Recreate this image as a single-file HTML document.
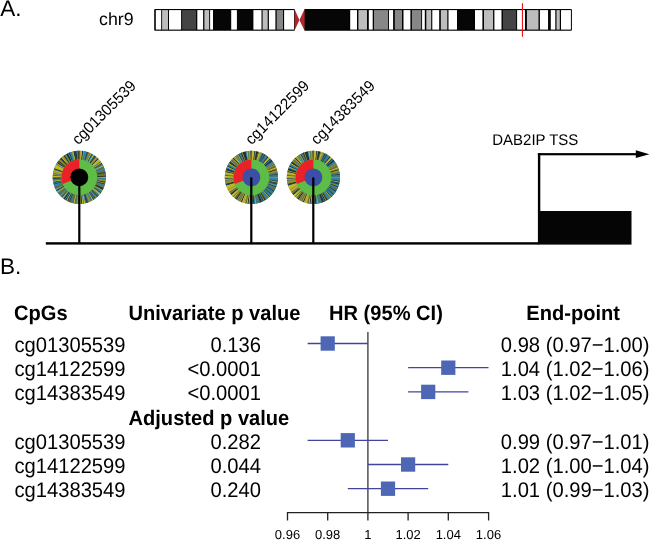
<!DOCTYPE html><html><head><meta charset="utf-8"><style>html,body{margin:0;padding:0;background:#fff;}svg{display:block;will-change:transform;}text{font-family:"Liberation Sans",sans-serif;fill:#000;text-rendering:geometricPrecision;}</style></head><body>
<svg width="650" height="545" viewBox="0 0 650 545">
<rect width="650" height="545" fill="#fff"/>
<text transform="translate(0.2,16.3)" font-size="22.5">A.</text>
<text transform="translate(99.1,24.9)" font-size="17.75">chr9</text>
<rect x="154.2" y="8.9" width="140.70" height="21.90" fill="#000" rx="1"/>
<rect x="304.2" y="8.9" width="267.70" height="21.90" fill="#000" rx="1"/>
<rect x="155.8" y="10.1" width="5.40" height="19.50" fill="#fff"/>
<rect x="162.1" y="10.1" width="5.90" height="19.50" fill="#bdbdbd"/>
<rect x="169.0" y="10.1" width="12.10" height="19.50" fill="#fff"/>
<rect x="182.1" y="10.1" width="14.00" height="19.50" fill="#444"/>
<rect x="197.3" y="10.1" width="5.80" height="19.50" fill="#fff"/>
<rect x="204.4" y="10.1" width="4.80" height="19.50" fill="#bdbdbd"/>
<rect x="210.1" y="10.1" width="2.90" height="19.50" fill="#fff"/>
<rect x="213.0" y="10.1" width="17.90" height="19.50" fill="#060606"/>
<rect x="231.2" y="10.1" width="5.70" height="19.50" fill="#fff"/>
<rect x="237" y="10.1" width="15.70" height="19.50" fill="#060606"/>
<rect x="253.4" y="10.1" width="8.10" height="19.50" fill="#fff"/>
<rect x="262.6" y="10.1" width="5.10" height="19.50" fill="#bdbdbd"/>
<rect x="268.9" y="10.1" width="6.50" height="19.50" fill="#fff"/>
<rect x="276.7" y="10.1" width="6.30" height="19.50" fill="#878787"/>
<rect x="284.1" y="10.1" width="9.90" height="19.50" fill="#fff"/>
<rect x="304.5" y="10.1" width="45.10" height="19.50" fill="#060606"/>
<rect x="350.2" y="10.1" width="6.80" height="19.50" fill="#fff"/>
<rect x="358.4" y="10.1" width="8.60" height="19.50" fill="#bdbdbd"/>
<rect x="368.8" y="10.1" width="3.90" height="19.50" fill="#fff"/>
<rect x="374.0" y="10.1" width="14.10" height="19.50" fill="#878787"/>
<rect x="389.0" y="10.1" width="4.10" height="19.50" fill="#fff"/>
<rect x="394.8" y="10.1" width="7.20" height="19.50" fill="#878787"/>
<rect x="403.5" y="10.1" width="6.90" height="19.50" fill="#fff"/>
<rect x="411.9" y="10.1" width="9.30" height="19.50" fill="#878787"/>
<rect x="422.1" y="10.1" width="2.70" height="19.50" fill="#fff"/>
<rect x="426.3" y="10.1" width="4.90" height="19.50" fill="#bdbdbd"/>
<rect x="432.3" y="10.1" width="6.90" height="19.50" fill="#fff"/>
<rect x="440.8" y="10.1" width="6.50" height="19.50" fill="#bdbdbd"/>
<rect x="448.5" y="10.1" width="8.50" height="19.50" fill="#fff"/>
<rect x="457.7" y="10.1" width="16.10" height="19.50" fill="#060606"/>
<rect x="475.0" y="10.1" width="7.40" height="19.50" fill="#fff"/>
<rect x="484.0" y="10.1" width="9.10" height="19.50" fill="#bdbdbd"/>
<rect x="494.4" y="10.1" width="7.10" height="19.50" fill="#fff"/>
<rect x="502.9" y="10.1" width="13.30" height="19.50" fill="#444"/>
<rect x="517.1" y="10.1" width="7.90" height="19.50" fill="#fff"/>
<rect x="526.9" y="10.1" width="11.60" height="19.50" fill="#bdbdbd"/>
<rect x="539.9" y="10.1" width="8.20" height="19.50" fill="#fff"/>
<rect x="548.5" y="10.1" width="2.00" height="19.50" fill="#060606"/>
<rect x="550.8" y="10.1" width="4.50" height="19.50" fill="#fff"/>
<rect x="556.5" y="10.1" width="3.30" height="19.50" fill="#bdbdbd"/>
<rect x="561.0" y="10.1" width="9.90" height="19.50" fill="#fff"/>
<polygon points="294.6,9.2 294.6,30.6 299.4,19.9" fill="#b1262b"/>
<polygon points="304.5,9.2 304.5,30.6 299.4,19.9" fill="#b1262b"/>
<rect x="521.9" y="3.2" width="1.1" height="33.6" fill="#e8141c"/>
<rect x="45.8" y="242.2" width="493" height="2.4" fill="#000"/>
<circle cx="79.3" cy="177.3" r="26.6" fill="#6f7440"/>
<path d="M79.30 150.70L80.39 150.72L80.01 160.01L79.30 160.00Z" fill="#9a9430"/><path d="M80.28 150.72L81.37 150.78L80.65 160.05L79.94 160.01Z" fill="#a9b043"/><path d="M81.26 150.77L82.35 150.88L81.28 160.11L80.58 160.05Z" fill="#d0c42c"/><path d="M82.24 150.86L83.32 151.01L81.92 160.20L81.21 160.11Z" fill="#1a2a30"/><path d="M83.22 150.99L84.29 151.17L82.55 160.31L81.85 160.19Z" fill="#9a9430"/><path d="M84.19 151.15L85.25 151.37L83.17 160.44L82.48 160.29Z" fill="#2189c0"/><path d="M85.15 151.35L86.21 151.61L83.79 160.59L83.11 160.42Z" fill="#2189c0"/><path d="M86.11 151.59L87.15 151.89L84.41 160.77L83.73 160.58Z" fill="#2189c0"/><path d="M87.05 151.85L88.09 152.19L85.01 160.97L84.34 160.75Z" fill="#1d3d52"/><path d="M87.99 152.16L89.01 152.53L85.61 161.19L84.95 160.95Z" fill="#6a6828"/><path d="M88.91 152.50L89.92 152.91L86.20 161.44L85.55 161.17Z" fill="#9a9430"/><path d="M89.82 152.87L90.81 153.32L86.79 161.70L86.14 161.41Z" fill="#2189c0"/><path d="M90.71 153.27L91.69 153.76L87.36 161.99L86.72 161.67Z" fill="#d0c42c"/><path d="M91.59 153.71L92.55 154.24L87.92 162.30L87.30 161.96Z" fill="#1d3d52"/><path d="M92.46 154.18L93.39 154.74L88.47 162.63L87.86 162.26Z" fill="#2189c0"/><path d="M93.30 154.68L94.22 155.28L89.00 162.98L88.41 162.59Z" fill="#d0c42c"/><path d="M94.13 155.22L95.02 155.84L89.52 163.34L88.94 162.94Z" fill="#2189c0"/><path d="M94.94 155.78L95.80 156.44L90.03 163.73L89.47 163.30Z" fill="#1a2a30"/><path d="M95.72 156.37L96.56 157.06L90.53 164.14L89.98 163.69Z" fill="#6a6828"/><path d="M96.48 156.99L97.30 157.71L91.01 164.56L90.47 164.09Z" fill="#a9b043"/><path d="M97.22 157.64L98.01 158.39L91.47 165.00L90.95 164.52Z" fill="#9a9430"/><path d="M97.93 158.32L98.70 159.10L91.91 165.46L91.42 164.95Z" fill="#1a2a30"/><path d="M98.62 159.02L99.36 159.83L92.34 165.94L91.87 165.41Z" fill="#d0c42c"/><path d="M99.29 159.75L99.99 160.58L92.75 166.43L92.30 165.88Z" fill="#d0c42c"/><path d="M99.92 160.50L100.59 161.35L93.15 166.93L92.71 166.37Z" fill="#d0c42c"/><path d="M100.53 161.27L101.17 162.15L93.52 167.45L93.11 166.87Z" fill="#3f7a80"/><path d="M101.11 162.07L101.71 162.97L93.88 167.98L93.48 167.39Z" fill="#d0c42c"/><path d="M101.65 162.88L102.22 163.81L94.21 168.53L93.84 167.92Z" fill="#1d3d52"/><path d="M102.17 163.72L102.71 164.67L94.52 169.08L94.17 168.47Z" fill="#6a6828"/><path d="M102.66 164.57L103.16 165.54L94.82 169.65L94.49 169.02Z" fill="#2189c0"/><path d="M103.11 165.44L103.58 166.43L95.09 170.23L94.79 169.59Z" fill="#d0c42c"/><path d="M103.53 166.33L103.96 167.33L95.34 170.82L95.06 170.17Z" fill="#3f7a80"/><path d="M103.92 167.23L104.31 168.25L95.57 171.41L95.31 170.75Z" fill="#6a6828"/><path d="M104.28 168.15L104.63 169.18L95.77 172.02L95.54 171.35Z" fill="#2189c0"/><path d="M104.60 169.08L104.91 170.12L95.96 172.63L95.75 171.95Z" fill="#2189c0"/><path d="M104.88 170.02L105.16 171.07L96.12 173.25L95.94 172.57Z" fill="#3f7a80"/><path d="M105.14 170.97L105.37 172.03L96.26 173.88L96.10 173.18Z" fill="#6a6828"/><path d="M105.35 171.93L105.55 173.00L96.37 174.50L96.24 173.81Z" fill="#1d3d52"/><path d="M105.53 172.90L105.69 173.97L96.46 175.14L96.36 174.44Z" fill="#6a6828"/><path d="M105.68 173.87L105.80 174.95L96.53 175.77L96.46 175.07Z" fill="#6a6828"/><path d="M105.79 174.85L105.86 175.93L96.58 176.41L96.53 175.70Z" fill="#2189c0"/><path d="M105.86 175.83L105.90 176.91L96.60 177.05L96.57 176.34Z" fill="#1a2a30"/><path d="M105.90 176.81L105.89 177.90L96.60 177.69L96.60 176.98Z" fill="#d0c42c"/><path d="M105.90 177.79L105.85 178.88L96.57 178.33L96.60 177.62Z" fill="#2189c0"/><path d="M105.86 178.77L105.78 179.86L96.52 178.97L96.57 178.26Z" fill="#3f7a80"/><path d="M105.79 179.75L105.66 180.84L96.45 179.60L96.53 178.90Z" fill="#9a9430"/><path d="M105.68 180.73L105.52 181.81L96.35 180.23L96.46 179.53Z" fill="#9a9430"/><path d="M105.53 181.70L105.33 182.77L96.23 180.86L96.36 180.16Z" fill="#1a2a30"/><path d="M105.35 182.67L105.11 183.73L96.09 181.48L96.24 180.79Z" fill="#9a9430"/><path d="M105.14 183.63L104.86 184.68L95.92 182.10L96.10 181.42Z" fill="#1a2a30"/><path d="M104.88 184.58L104.57 185.62L95.73 182.71L95.94 182.03Z" fill="#3f7a80"/><path d="M104.60 185.52L104.24 186.55L95.52 183.32L95.75 182.65Z" fill="#2189c0"/><path d="M104.28 186.45L103.88 187.46L95.29 183.91L95.54 183.25Z" fill="#3f7a80"/><path d="M103.92 187.37L103.49 188.37L95.03 184.50L95.31 183.85Z" fill="#6a6828"/><path d="M103.53 188.27L103.06 189.25L94.76 185.07L95.06 184.43Z" fill="#1a2a30"/><path d="M103.11 189.16L102.61 190.12L94.46 185.64L94.79 185.01Z" fill="#1a2a30"/><path d="M102.66 190.03L102.12 190.97L94.14 186.19L94.49 185.58Z" fill="#a9b043"/><path d="M102.17 190.88L101.60 191.81L93.80 186.74L94.17 186.13Z" fill="#2189c0"/><path d="M101.65 191.72L101.04 192.62L93.44 187.26L93.84 186.68Z" fill="#3f7a80"/><path d="M101.11 192.53L100.46 193.41L93.06 187.78L93.48 187.21Z" fill="#1d3d52"/><path d="M100.53 193.33L99.85 194.19L92.67 188.28L93.11 187.73Z" fill="#a9b043"/><path d="M99.92 194.10L99.22 194.93L92.25 188.77L92.71 188.23Z" fill="#d0c42c"/><path d="M99.29 194.85L98.55 195.66L91.82 189.24L92.30 188.72Z" fill="#2189c0"/><path d="M98.62 195.58L97.86 196.36L91.37 189.69L91.87 189.19Z" fill="#6a6828"/><path d="M97.93 196.28L97.14 197.03L90.90 190.13L91.42 189.65Z" fill="#1d3d52"/><path d="M97.22 196.96L96.40 197.67L90.42 190.55L90.95 190.08Z" fill="#2189c0"/><path d="M96.48 197.61L95.64 198.29L89.92 190.95L90.47 190.51Z" fill="#9a9430"/><path d="M95.72 198.23L94.85 198.88L89.41 191.34L89.98 190.91Z" fill="#1d3d52"/><path d="M94.94 198.82L94.04 199.44L88.89 191.70L89.47 191.30Z" fill="#3f7a80"/><path d="M94.13 199.38L93.21 199.97L88.35 192.05L88.94 191.66Z" fill="#1d3d52"/><path d="M93.30 199.92L92.37 200.47L87.80 192.37L88.41 192.01Z" fill="#d0c42c"/><path d="M92.46 200.42L91.50 200.94L87.23 192.67L87.86 192.34Z" fill="#2189c0"/><path d="M91.59 200.89L90.62 201.37L86.66 192.96L87.30 192.64Z" fill="#3f7a80"/><path d="M90.71 201.33L89.72 201.77L86.08 193.22L86.72 192.93Z" fill="#9a9430"/><path d="M89.82 201.73L88.81 202.14L85.48 193.46L86.14 193.19Z" fill="#9a9430"/><path d="M88.91 202.10L87.89 202.48L84.88 193.67L85.55 193.43Z" fill="#3f7a80"/><path d="M87.99 202.44L86.95 202.78L84.27 193.87L84.95 193.65Z" fill="#1d3d52"/><path d="M87.05 202.75L86.00 203.04L83.66 194.04L84.34 193.85Z" fill="#1d3d52"/><path d="M86.11 203.01L85.05 203.27L83.04 194.19L83.73 194.02Z" fill="#2189c0"/><path d="M85.15 203.25L84.08 203.47L82.41 194.32L83.11 194.18Z" fill="#d0c42c"/><path d="M84.19 203.45L83.11 203.63L81.78 194.42L82.48 194.31Z" fill="#2189c0"/><path d="M83.22 203.61L82.14 203.75L81.15 194.50L81.85 194.41Z" fill="#d0c42c"/><path d="M82.24 203.74L81.16 203.84L80.51 194.56L81.21 194.49Z" fill="#1a2a30"/><path d="M81.26 203.83L80.18 203.89L79.87 194.59L80.58 194.55Z" fill="#a9b043"/><path d="M80.28 203.88L79.19 203.90L79.23 194.60L79.94 194.59Z" fill="#a9b043"/><path d="M79.30 203.90L78.21 203.88L78.59 194.59L79.30 194.60Z" fill="#1d3d52"/><path d="M78.32 203.88L77.23 203.82L77.95 194.55L78.66 194.59Z" fill="#9a9430"/><path d="M77.34 203.83L76.25 203.72L77.32 194.49L78.02 194.55Z" fill="#9a9430"/><path d="M76.36 203.74L75.28 203.59L76.68 194.40L77.39 194.49Z" fill="#3f7a80"/><path d="M75.38 203.61L74.31 203.43L76.05 194.29L76.75 194.41Z" fill="#6a6828"/><path d="M74.41 203.45L73.35 203.23L75.43 194.16L76.12 194.31Z" fill="#d0c42c"/><path d="M73.45 203.25L72.39 202.99L74.81 194.01L75.49 194.18Z" fill="#6a6828"/><path d="M72.49 203.01L71.45 202.71L74.19 193.83L74.87 194.02Z" fill="#3f7a80"/><path d="M71.55 202.75L70.51 202.41L73.59 193.63L74.26 193.85Z" fill="#3f7a80"/><path d="M70.61 202.44L69.59 202.07L72.99 193.41L73.65 193.65Z" fill="#6a6828"/><path d="M69.69 202.10L68.68 201.69L72.40 193.16L73.05 193.43Z" fill="#1d3d52"/><path d="M68.78 201.73L67.79 201.28L71.81 192.90L72.46 193.19Z" fill="#3f7a80"/><path d="M67.89 201.33L66.91 200.84L71.24 192.61L71.88 192.93Z" fill="#1d3d52"/><path d="M67.01 200.89L66.05 200.36L70.68 192.30L71.30 192.64Z" fill="#a9b043"/><path d="M66.14 200.42L65.21 199.86L70.13 191.97L70.74 192.34Z" fill="#1d3d52"/><path d="M65.30 199.92L64.38 199.32L69.60 191.62L70.19 192.01Z" fill="#2189c0"/><path d="M64.47 199.38L63.58 198.76L69.08 191.26L69.66 191.66Z" fill="#1a2a30"/><path d="M63.66 198.82L62.80 198.16L68.57 190.87L69.13 191.30Z" fill="#3f7a80"/><path d="M62.88 198.23L62.04 197.54L68.07 190.46L68.62 190.91Z" fill="#d0c42c"/><path d="M62.12 197.61L61.30 196.89L67.59 190.04L68.13 190.51Z" fill="#1d3d52"/><path d="M61.38 196.96L60.59 196.21L67.13 189.60L67.65 190.08Z" fill="#3f7a80"/><path d="M60.67 196.28L59.90 195.50L66.69 189.14L67.18 189.65Z" fill="#9a9430"/><path d="M59.98 195.58L59.24 194.77L66.26 188.66L66.73 189.19Z" fill="#3f7a80"/><path d="M59.31 194.85L58.61 194.02L65.85 188.17L66.30 188.72Z" fill="#3f7a80"/><path d="M58.68 194.10L58.01 193.25L65.45 187.67L65.89 188.23Z" fill="#6a6828"/><path d="M58.07 193.33L57.43 192.45L65.08 187.15L65.49 187.73Z" fill="#2189c0"/><path d="M57.49 192.53L56.89 191.63L64.72 186.62L65.12 187.21Z" fill="#d0c42c"/><path d="M56.95 191.72L56.38 190.79L64.39 186.07L64.76 186.68Z" fill="#2189c0"/><path d="M56.43 190.88L55.89 189.93L64.08 185.52L64.43 186.13Z" fill="#1d3d52"/><path d="M55.94 190.03L55.44 189.06L63.78 184.95L64.11 185.58Z" fill="#a9b043"/><path d="M55.49 189.16L55.02 188.17L63.51 184.37L63.81 185.01Z" fill="#3f7a80"/><path d="M55.07 188.27L54.64 187.27L63.26 183.78L63.54 184.43Z" fill="#6a6828"/><path d="M54.68 187.37L54.29 186.35L63.03 183.19L63.29 183.85Z" fill="#3f7a80"/><path d="M54.32 186.45L53.97 185.42L62.83 182.58L63.06 183.25Z" fill="#2189c0"/><path d="M54.00 185.52L53.69 184.48L62.64 181.97L62.85 182.65Z" fill="#2189c0"/><path d="M53.72 184.58L53.44 183.53L62.48 181.35L62.66 182.03Z" fill="#1d3d52"/><path d="M53.46 183.63L53.23 182.57L62.34 180.72L62.50 181.42Z" fill="#2189c0"/><path d="M53.25 182.67L53.05 181.60L62.23 180.10L62.36 180.79Z" fill="#1d3d52"/><path d="M53.07 181.70L52.91 180.63L62.14 179.46L62.24 180.16Z" fill="#d0c42c"/><path d="M52.92 180.73L52.80 179.65L62.07 178.83L62.14 179.53Z" fill="#3f7a80"/><path d="M52.81 179.75L52.74 178.67L62.02 178.19L62.07 178.90Z" fill="#3f7a80"/><path d="M52.74 178.77L52.70 177.69L62.00 177.55L62.03 178.26Z" fill="#1a2a30"/><path d="M52.70 177.79L52.71 176.70L62.00 176.91L62.00 177.62Z" fill="#2189c0"/><path d="M52.70 176.81L52.75 175.72L62.03 176.27L62.00 176.98Z" fill="#d0c42c"/><path d="M52.74 175.83L52.82 174.74L62.08 175.63L62.03 176.34Z" fill="#6a6828"/><path d="M52.81 174.85L52.94 173.76L62.15 175.00L62.07 175.70Z" fill="#9a9430"/><path d="M52.92 173.87L53.08 172.79L62.25 174.37L62.14 175.07Z" fill="#3f7a80"/><path d="M53.07 172.90L53.27 171.83L62.37 173.74L62.24 174.44Z" fill="#a9b043"/><path d="M53.25 171.93L53.49 170.87L62.51 173.12L62.36 173.81Z" fill="#9a9430"/><path d="M53.46 170.97L53.74 169.92L62.68 172.50L62.50 173.18Z" fill="#d0c42c"/><path d="M53.72 170.02L54.03 168.98L62.87 171.89L62.66 172.57Z" fill="#3f7a80"/><path d="M54.00 169.08L54.36 168.05L63.08 171.28L62.85 171.95Z" fill="#1a2a30"/><path d="M54.32 168.15L54.72 167.14L63.31 170.69L63.06 171.35Z" fill="#d0c42c"/><path d="M54.68 167.23L55.11 166.23L63.57 170.10L63.29 170.75Z" fill="#d0c42c"/><path d="M55.07 166.33L55.54 165.35L63.84 169.53L63.54 170.17Z" fill="#d0c42c"/><path d="M55.49 165.44L55.99 164.48L64.14 168.96L63.81 169.59Z" fill="#d0c42c"/><path d="M55.94 164.57L56.48 163.63L64.46 168.41L64.11 169.02Z" fill="#2189c0"/><path d="M56.43 163.72L57.00 162.79L64.80 167.86L64.43 168.47Z" fill="#d0c42c"/><path d="M56.95 162.88L57.56 161.98L65.16 167.34L64.76 167.92Z" fill="#1a2a30"/><path d="M57.49 162.07L58.14 161.19L65.54 166.82L65.12 167.39Z" fill="#6a6828"/><path d="M58.07 161.27L58.75 160.41L65.93 166.32L65.49 166.87Z" fill="#1a2a30"/><path d="M58.68 160.50L59.38 159.67L66.35 165.83L65.89 166.37Z" fill="#9a9430"/><path d="M59.31 159.75L60.05 158.94L66.78 165.36L66.30 165.88Z" fill="#9a9430"/><path d="M59.98 159.02L60.74 158.24L67.23 164.91L66.73 165.41Z" fill="#1d3d52"/><path d="M60.67 158.32L61.46 157.57L67.70 164.47L67.18 164.95Z" fill="#1a2a30"/><path d="M61.38 157.64L62.20 156.93L68.18 164.05L67.65 164.52Z" fill="#d0c42c"/><path d="M62.12 156.99L62.96 156.31L68.68 163.65L68.13 164.09Z" fill="#9a9430"/><path d="M62.88 156.37L63.75 155.72L69.19 163.26L68.62 163.69Z" fill="#9a9430"/><path d="M63.66 155.78L64.56 155.16L69.71 162.90L69.13 163.30Z" fill="#1a2a30"/><path d="M64.47 155.22L65.39 154.63L70.25 162.55L69.66 162.94Z" fill="#3f7a80"/><path d="M65.30 154.68L66.23 154.13L70.80 162.23L70.19 162.59Z" fill="#9a9430"/><path d="M66.14 154.18L67.10 153.66L71.37 161.93L70.74 162.26Z" fill="#1a2a30"/><path d="M67.01 153.71L67.98 153.23L71.94 161.64L71.30 161.96Z" fill="#1a2a30"/><path d="M67.89 153.27L68.88 152.83L72.52 161.38L71.88 161.67Z" fill="#2189c0"/><path d="M68.78 152.87L69.79 152.46L73.12 161.14L72.46 161.41Z" fill="#1a2a30"/><path d="M69.69 152.50L70.71 152.12L73.72 160.93L73.05 161.17Z" fill="#2189c0"/><path d="M70.61 152.16L71.65 151.82L74.33 160.73L73.65 160.95Z" fill="#2189c0"/><path d="M71.55 151.85L72.60 151.56L74.94 160.56L74.26 160.75Z" fill="#9a9430"/><path d="M72.49 151.59L73.55 151.33L75.56 160.41L74.87 160.58Z" fill="#d0c42c"/><path d="M73.45 151.35L74.52 151.13L76.19 160.28L75.49 160.42Z" fill="#1a2a30"/><path d="M74.41 151.15L75.49 150.97L76.82 160.18L76.12 160.29Z" fill="#1d3d52"/><path d="M75.38 150.99L76.46 150.85L77.45 160.10L76.75 160.19Z" fill="#1a2a30"/><path d="M76.36 150.86L77.44 150.76L78.09 160.04L77.39 160.11Z" fill="#2189c0"/><path d="M77.34 150.77L78.42 150.71L78.73 160.01L78.02 160.05Z" fill="#6a6828"/><path d="M78.32 150.72L79.41 150.70L79.37 160.00L78.66 160.01Z" fill="#1a2a30"/>
<circle cx="79.3" cy="177.3" r="17.9" fill="#5dbd47"/>
<path d="M79.30 177.30L62.70 184.01A17.9 17.9 0 0 1 79.30 159.40Z" fill="#ea2127"/>
<circle cx="79.3" cy="177.3" r="8.9" fill="#000"/>
<circle cx="251.4" cy="177.4" r="26.6" fill="#6f7440"/>
<path d="M251.40 150.80L252.49 150.82L252.11 160.11L251.40 160.10Z" fill="#d0c42c"/><path d="M252.38 150.82L253.47 150.88L252.75 160.15L252.04 160.11Z" fill="#d0c42c"/><path d="M253.36 150.87L254.45 150.98L253.38 160.21L252.68 160.15Z" fill="#d0c42c"/><path d="M254.34 150.96L255.42 151.11L254.02 160.30L253.31 160.21Z" fill="#1d3d52"/><path d="M255.32 151.09L256.39 151.27L254.65 160.41L253.95 160.29Z" fill="#9a9430"/><path d="M256.29 151.25L257.35 151.47L255.27 160.54L254.58 160.39Z" fill="#1a2a30"/><path d="M257.25 151.45L258.31 151.71L255.89 160.69L255.21 160.52Z" fill="#1a2a30"/><path d="M258.21 151.69L259.25 151.99L256.51 160.87L255.83 160.68Z" fill="#6a6828"/><path d="M259.15 151.95L260.19 152.29L257.11 161.07L256.44 160.85Z" fill="#d0c42c"/><path d="M260.09 152.26L261.11 152.63L257.71 161.29L257.05 161.05Z" fill="#a9b043"/><path d="M261.01 152.60L262.02 153.01L258.30 161.54L257.65 161.27Z" fill="#9a9430"/><path d="M261.92 152.97L262.91 153.42L258.89 161.80L258.24 161.51Z" fill="#2189c0"/><path d="M262.81 153.37L263.79 153.86L259.46 162.09L258.82 161.77Z" fill="#1d3d52"/><path d="M263.69 153.81L264.65 154.34L260.02 162.40L259.40 162.06Z" fill="#3f7a80"/><path d="M264.56 154.28L265.49 154.84L260.57 162.73L259.96 162.36Z" fill="#1d3d52"/><path d="M265.40 154.78L266.32 155.38L261.10 163.08L260.51 162.69Z" fill="#3f7a80"/><path d="M266.23 155.32L267.12 155.94L261.62 163.44L261.04 163.04Z" fill="#2189c0"/><path d="M267.04 155.88L267.90 156.54L262.13 163.83L261.57 163.40Z" fill="#3f7a80"/><path d="M267.82 156.47L268.66 157.16L262.63 164.24L262.08 163.79Z" fill="#1a2a30"/><path d="M268.58 157.09L269.40 157.81L263.11 164.66L262.57 164.19Z" fill="#d0c42c"/><path d="M269.32 157.74L270.11 158.49L263.57 165.10L263.05 164.62Z" fill="#d0c42c"/><path d="M270.03 158.42L270.80 159.20L264.01 165.56L263.52 165.05Z" fill="#1d3d52"/><path d="M270.72 159.12L271.46 159.93L264.44 166.04L263.97 165.51Z" fill="#2189c0"/><path d="M271.39 159.85L272.09 160.68L264.85 166.53L264.40 165.98Z" fill="#1a2a30"/><path d="M272.02 160.60L272.69 161.45L265.25 167.03L264.81 166.47Z" fill="#1d3d52"/><path d="M272.63 161.37L273.27 162.25L265.62 167.55L265.21 166.97Z" fill="#2189c0"/><path d="M273.21 162.17L273.81 163.07L265.98 168.08L265.58 167.49Z" fill="#3f7a80"/><path d="M273.75 162.98L274.32 163.91L266.31 168.63L265.94 168.02Z" fill="#9a9430"/><path d="M274.27 163.82L274.81 164.77L266.62 169.18L266.27 168.57Z" fill="#3f7a80"/><path d="M274.76 164.67L275.26 165.64L266.92 169.75L266.59 169.12Z" fill="#9a9430"/><path d="M275.21 165.54L275.68 166.53L267.19 170.33L266.89 169.69Z" fill="#6a6828"/><path d="M275.63 166.43L276.06 167.43L267.44 170.92L267.16 170.27Z" fill="#6a6828"/><path d="M276.02 167.33L276.41 168.35L267.67 171.51L267.41 170.85Z" fill="#d0c42c"/><path d="M276.38 168.25L276.73 169.28L267.87 172.12L267.64 171.45Z" fill="#9a9430"/><path d="M276.70 169.18L277.01 170.22L268.06 172.73L267.85 172.05Z" fill="#1a2a30"/><path d="M276.98 170.12L277.26 171.17L268.22 173.35L268.04 172.67Z" fill="#9a9430"/><path d="M277.24 171.07L277.47 172.13L268.36 173.98L268.20 173.28Z" fill="#9a9430"/><path d="M277.45 172.03L277.65 173.10L268.47 174.60L268.34 173.91Z" fill="#3f7a80"/><path d="M277.63 173.00L277.79 174.07L268.56 175.24L268.46 174.54Z" fill="#3f7a80"/><path d="M277.78 173.97L277.90 175.05L268.63 175.87L268.56 175.17Z" fill="#1d3d52"/><path d="M277.89 174.95L277.96 176.03L268.68 176.51L268.63 175.80Z" fill="#3f7a80"/><path d="M277.96 175.93L278.00 177.01L268.70 177.15L268.67 176.44Z" fill="#3f7a80"/><path d="M278.00 176.91L277.99 178.00L268.70 177.79L268.70 177.08Z" fill="#9a9430"/><path d="M278.00 177.89L277.95 178.98L268.67 178.43L268.70 177.72Z" fill="#2189c0"/><path d="M277.96 178.87L277.88 179.96L268.62 179.07L268.67 178.36Z" fill="#2189c0"/><path d="M277.89 179.85L277.76 180.94L268.55 179.70L268.63 179.00Z" fill="#3f7a80"/><path d="M277.78 180.83L277.62 181.91L268.45 180.33L268.56 179.63Z" fill="#1d3d52"/><path d="M277.63 181.80L277.43 182.87L268.33 180.96L268.46 180.26Z" fill="#a9b043"/><path d="M277.45 182.77L277.21 183.83L268.19 181.58L268.34 180.89Z" fill="#1d3d52"/><path d="M277.24 183.73L276.96 184.78L268.02 182.20L268.20 181.52Z" fill="#1d3d52"/><path d="M276.98 184.68L276.67 185.72L267.83 182.81L268.04 182.13Z" fill="#2189c0"/><path d="M276.70 185.62L276.34 186.65L267.62 183.42L267.85 182.75Z" fill="#9a9430"/><path d="M276.38 186.55L275.98 187.56L267.39 184.01L267.64 183.35Z" fill="#1d3d52"/><path d="M276.02 187.47L275.59 188.47L267.13 184.60L267.41 183.95Z" fill="#2189c0"/><path d="M275.63 188.37L275.16 189.35L266.86 185.17L267.16 184.53Z" fill="#3f7a80"/><path d="M275.21 189.26L274.71 190.22L266.56 185.74L266.89 185.11Z" fill="#6a6828"/><path d="M274.76 190.13L274.22 191.07L266.24 186.29L266.59 185.68Z" fill="#2189c0"/><path d="M274.27 190.98L273.70 191.91L265.90 186.84L266.27 186.23Z" fill="#1a2a30"/><path d="M273.75 191.82L273.14 192.72L265.54 187.36L265.94 186.78Z" fill="#2189c0"/><path d="M273.21 192.63L272.56 193.51L265.16 187.88L265.58 187.31Z" fill="#3f7a80"/><path d="M272.63 193.43L271.95 194.29L264.77 188.38L265.21 187.83Z" fill="#3f7a80"/><path d="M272.02 194.20L271.32 195.03L264.35 188.87L264.81 188.33Z" fill="#1d3d52"/><path d="M271.39 194.95L270.65 195.76L263.92 189.34L264.40 188.82Z" fill="#2189c0"/><path d="M270.72 195.68L269.96 196.46L263.47 189.79L263.97 189.29Z" fill="#2189c0"/><path d="M270.03 196.38L269.24 197.13L263.00 190.23L263.52 189.75Z" fill="#1d3d52"/><path d="M269.32 197.06L268.50 197.77L262.52 190.65L263.05 190.18Z" fill="#a9b043"/><path d="M268.58 197.71L267.74 198.39L262.02 191.05L262.57 190.61Z" fill="#3f7a80"/><path d="M267.82 198.33L266.95 198.98L261.51 191.44L262.08 191.01Z" fill="#2189c0"/><path d="M267.04 198.92L266.14 199.54L260.99 191.80L261.57 191.40Z" fill="#2189c0"/><path d="M266.23 199.48L265.31 200.07L260.45 192.15L261.04 191.76Z" fill="#6a6828"/><path d="M265.40 200.02L264.47 200.57L259.90 192.47L260.51 192.11Z" fill="#1a2a30"/><path d="M264.56 200.52L263.60 201.04L259.33 192.77L259.96 192.44Z" fill="#9a9430"/><path d="M263.69 200.99L262.72 201.47L258.76 193.06L259.40 192.74Z" fill="#1a2a30"/><path d="M262.81 201.43L261.82 201.87L258.18 193.32L258.82 193.03Z" fill="#2189c0"/><path d="M261.92 201.83L260.91 202.24L257.58 193.56L258.24 193.29Z" fill="#1a2a30"/><path d="M261.01 202.20L259.99 202.58L256.98 193.77L257.65 193.53Z" fill="#1a2a30"/><path d="M260.09 202.54L259.05 202.88L256.37 193.97L257.05 193.75Z" fill="#3f7a80"/><path d="M259.15 202.85L258.10 203.14L255.76 194.14L256.44 193.95Z" fill="#3f7a80"/><path d="M258.21 203.11L257.15 203.37L255.14 194.29L255.83 194.12Z" fill="#3f7a80"/><path d="M257.25 203.35L256.18 203.57L254.51 194.42L255.21 194.28Z" fill="#3f7a80"/><path d="M256.29 203.55L255.21 203.73L253.88 194.52L254.58 194.41Z" fill="#a9b043"/><path d="M255.32 203.71L254.24 203.85L253.25 194.60L253.95 194.51Z" fill="#2189c0"/><path d="M254.34 203.84L253.26 203.94L252.61 194.66L253.31 194.59Z" fill="#1a2a30"/><path d="M253.36 203.93L252.28 203.99L251.97 194.69L252.68 194.65Z" fill="#6a6828"/><path d="M252.38 203.98L251.29 204.00L251.33 194.70L252.04 194.69Z" fill="#2189c0"/><path d="M251.40 204.00L250.31 203.98L250.69 194.69L251.40 194.70Z" fill="#3f7a80"/><path d="M250.42 203.98L249.33 203.92L250.05 194.65L250.76 194.69Z" fill="#1d3d52"/><path d="M249.44 203.93L248.35 203.82L249.42 194.59L250.12 194.65Z" fill="#d0c42c"/><path d="M248.46 203.84L247.38 203.69L248.78 194.50L249.49 194.59Z" fill="#1a2a30"/><path d="M247.48 203.71L246.41 203.53L248.15 194.39L248.85 194.51Z" fill="#d0c42c"/><path d="M246.51 203.55L245.45 203.33L247.53 194.26L248.22 194.41Z" fill="#6a6828"/><path d="M245.55 203.35L244.49 203.09L246.91 194.11L247.59 194.28Z" fill="#9a9430"/><path d="M244.59 203.11L243.55 202.81L246.29 193.93L246.97 194.12Z" fill="#d0c42c"/><path d="M243.65 202.85L242.61 202.51L245.69 193.73L246.36 193.95Z" fill="#a9b043"/><path d="M242.71 202.54L241.69 202.17L245.09 193.51L245.75 193.75Z" fill="#d0c42c"/><path d="M241.79 202.20L240.78 201.79L244.50 193.26L245.15 193.53Z" fill="#1a2a30"/><path d="M240.88 201.83L239.89 201.38L243.91 193.00L244.56 193.29Z" fill="#a9b043"/><path d="M239.99 201.43L239.01 200.94L243.34 192.71L243.98 193.03Z" fill="#6a6828"/><path d="M239.11 200.99L238.15 200.46L242.78 192.40L243.40 192.74Z" fill="#9a9430"/><path d="M238.24 200.52L237.31 199.96L242.23 192.07L242.84 192.44Z" fill="#3f7a80"/><path d="M237.40 200.02L236.48 199.42L241.70 191.72L242.29 192.11Z" fill="#9a9430"/><path d="M236.57 199.48L235.68 198.86L241.18 191.36L241.76 191.76Z" fill="#1a2a30"/><path d="M235.76 198.92L234.90 198.26L240.67 190.97L241.23 191.40Z" fill="#6a6828"/><path d="M234.98 198.33L234.14 197.64L240.17 190.56L240.72 191.01Z" fill="#6a6828"/><path d="M234.22 197.71L233.40 196.99L239.69 190.14L240.23 190.61Z" fill="#d0c42c"/><path d="M233.48 197.06L232.69 196.31L239.23 189.70L239.75 190.18Z" fill="#2189c0"/><path d="M232.77 196.38L232.00 195.60L238.79 189.24L239.28 189.75Z" fill="#d0c42c"/><path d="M232.08 195.68L231.34 194.87L238.36 188.76L238.83 189.29Z" fill="#d0c42c"/><path d="M231.41 194.95L230.71 194.12L237.95 188.27L238.40 188.82Z" fill="#1d3d52"/><path d="M230.78 194.20L230.11 193.35L237.55 187.77L237.99 188.33Z" fill="#1d3d52"/><path d="M230.17 193.43L229.53 192.55L237.18 187.25L237.59 187.83Z" fill="#9a9430"/><path d="M229.59 192.63L228.99 191.73L236.82 186.72L237.22 187.31Z" fill="#6a6828"/><path d="M229.05 191.82L228.48 190.89L236.49 186.17L236.86 186.78Z" fill="#d0c42c"/><path d="M228.53 190.98L227.99 190.03L236.18 185.62L236.53 186.23Z" fill="#d0c42c"/><path d="M228.04 190.13L227.54 189.16L235.88 185.05L236.21 185.68Z" fill="#9a9430"/><path d="M227.59 189.26L227.12 188.27L235.61 184.47L235.91 185.11Z" fill="#d0c42c"/><path d="M227.17 188.37L226.74 187.37L235.36 183.88L235.64 184.53Z" fill="#d0c42c"/><path d="M226.78 187.47L226.39 186.45L235.13 183.29L235.39 183.95Z" fill="#d0c42c"/><path d="M226.42 186.55L226.07 185.52L234.93 182.68L235.16 183.35Z" fill="#d0c42c"/><path d="M226.10 185.62L225.79 184.58L234.74 182.07L234.95 182.75Z" fill="#1d3d52"/><path d="M225.82 184.68L225.54 183.63L234.58 181.45L234.76 182.13Z" fill="#1a2a30"/><path d="M225.56 183.73L225.33 182.67L234.44 180.82L234.60 181.52Z" fill="#9a9430"/><path d="M225.35 182.77L225.15 181.70L234.33 180.20L234.46 180.89Z" fill="#9a9430"/><path d="M225.17 181.80L225.01 180.73L234.24 179.56L234.34 180.26Z" fill="#9a9430"/><path d="M225.02 180.83L224.90 179.75L234.17 178.93L234.24 179.63Z" fill="#3f7a80"/><path d="M224.91 179.85L224.84 178.77L234.12 178.29L234.17 179.00Z" fill="#d0c42c"/><path d="M224.84 178.87L224.80 177.79L234.10 177.65L234.13 178.36Z" fill="#1d3d52"/><path d="M224.80 177.89L224.81 176.80L234.10 177.01L234.10 177.72Z" fill="#a9b043"/><path d="M224.80 176.91L224.85 175.82L234.13 176.37L234.10 177.08Z" fill="#d0c42c"/><path d="M224.84 175.93L224.92 174.84L234.18 175.73L234.13 176.44Z" fill="#6a6828"/><path d="M224.91 174.95L225.04 173.86L234.25 175.10L234.17 175.80Z" fill="#9a9430"/><path d="M225.02 173.97L225.18 172.89L234.35 174.47L234.24 175.17Z" fill="#d0c42c"/><path d="M225.17 173.00L225.37 171.93L234.47 173.84L234.34 174.54Z" fill="#d0c42c"/><path d="M225.35 172.03L225.59 170.97L234.61 173.22L234.46 173.91Z" fill="#1d3d52"/><path d="M225.56 171.07L225.84 170.02L234.78 172.60L234.60 173.28Z" fill="#9a9430"/><path d="M225.82 170.12L226.13 169.08L234.97 171.99L234.76 172.67Z" fill="#1a2a30"/><path d="M226.10 169.18L226.46 168.15L235.18 171.38L234.95 172.05Z" fill="#1a2a30"/><path d="M226.42 168.25L226.82 167.24L235.41 170.79L235.16 171.45Z" fill="#2189c0"/><path d="M226.78 167.33L227.21 166.33L235.67 170.20L235.39 170.85Z" fill="#d0c42c"/><path d="M227.17 166.43L227.64 165.45L235.94 169.63L235.64 170.27Z" fill="#1a2a30"/><path d="M227.59 165.54L228.09 164.58L236.24 169.06L235.91 169.69Z" fill="#2189c0"/><path d="M228.04 164.67L228.58 163.73L236.56 168.51L236.21 169.12Z" fill="#3f7a80"/><path d="M228.53 163.82L229.10 162.89L236.90 167.96L236.53 168.57Z" fill="#d0c42c"/><path d="M229.05 162.98L229.66 162.08L237.26 167.44L236.86 168.02Z" fill="#1a2a30"/><path d="M229.59 162.17L230.24 161.29L237.64 166.92L237.22 167.49Z" fill="#1d3d52"/><path d="M230.17 161.37L230.85 160.51L238.03 166.42L237.59 166.97Z" fill="#9a9430"/><path d="M230.78 160.60L231.48 159.77L238.45 165.93L237.99 166.47Z" fill="#2189c0"/><path d="M231.41 159.85L232.15 159.04L238.88 165.46L238.40 165.98Z" fill="#6a6828"/><path d="M232.08 159.12L232.84 158.34L239.33 165.01L238.83 165.51Z" fill="#d0c42c"/><path d="M232.77 158.42L233.56 157.67L239.80 164.57L239.28 165.05Z" fill="#1a2a30"/><path d="M233.48 157.74L234.30 157.03L240.28 164.15L239.75 164.62Z" fill="#9a9430"/><path d="M234.22 157.09L235.06 156.41L240.78 163.75L240.23 164.19Z" fill="#d0c42c"/><path d="M234.98 156.47L235.85 155.82L241.29 163.36L240.72 163.79Z" fill="#2189c0"/><path d="M235.76 155.88L236.66 155.26L241.81 163.00L241.23 163.40Z" fill="#9a9430"/><path d="M236.57 155.32L237.49 154.73L242.35 162.65L241.76 163.04Z" fill="#3f7a80"/><path d="M237.40 154.78L238.33 154.23L242.90 162.33L242.29 162.69Z" fill="#a9b043"/><path d="M238.24 154.28L239.20 153.76L243.47 162.03L242.84 162.36Z" fill="#1d3d52"/><path d="M239.11 153.81L240.08 153.33L244.04 161.74L243.40 162.06Z" fill="#2189c0"/><path d="M239.99 153.37L240.98 152.93L244.62 161.48L243.98 161.77Z" fill="#3f7a80"/><path d="M240.88 152.97L241.89 152.56L245.22 161.24L244.56 161.51Z" fill="#1a2a30"/><path d="M241.79 152.60L242.81 152.22L245.82 161.03L245.15 161.27Z" fill="#9a9430"/><path d="M242.71 152.26L243.75 151.92L246.43 160.83L245.75 161.05Z" fill="#1a2a30"/><path d="M243.65 151.95L244.70 151.66L247.04 160.66L246.36 160.85Z" fill="#1a2a30"/><path d="M244.59 151.69L245.65 151.43L247.66 160.51L246.97 160.68Z" fill="#1a2a30"/><path d="M245.55 151.45L246.62 151.23L248.29 160.38L247.59 160.52Z" fill="#2189c0"/><path d="M246.51 151.25L247.59 151.07L248.92 160.28L248.22 160.39Z" fill="#d0c42c"/><path d="M247.48 151.09L248.56 150.95L249.55 160.20L248.85 160.29Z" fill="#3f7a80"/><path d="M248.46 150.96L249.54 150.86L250.19 160.14L249.49 160.21Z" fill="#9a9430"/><path d="M249.44 150.87L250.52 150.81L250.83 160.11L250.12 160.15Z" fill="#d0c42c"/><path d="M250.42 150.82L251.51 150.80L251.47 160.10L250.76 160.11Z" fill="#1a2a30"/>
<circle cx="251.4" cy="177.4" r="17.9" fill="#5dbd47"/>
<path d="M251.40 177.40L234.80 184.11A17.9 17.9 0 0 1 251.40 159.50Z" fill="#ea2127"/>
<circle cx="251.4" cy="177.4" r="8.9" fill="#3b4fa6"/>
<circle cx="313.4" cy="177.4" r="26.6" fill="#6f7440"/>
<path d="M313.40 150.80L314.49 150.82L314.11 160.11L313.40 160.10Z" fill="#d0c42c"/><path d="M314.38 150.82L315.47 150.88L314.75 160.15L314.04 160.11Z" fill="#d0c42c"/><path d="M315.36 150.87L316.45 150.98L315.38 160.21L314.68 160.15Z" fill="#d0c42c"/><path d="M316.34 150.96L317.42 151.11L316.02 160.30L315.31 160.21Z" fill="#1d3d52"/><path d="M317.32 151.09L318.39 151.27L316.65 160.41L315.95 160.29Z" fill="#9a9430"/><path d="M318.29 151.25L319.35 151.47L317.27 160.54L316.58 160.39Z" fill="#1a2a30"/><path d="M319.25 151.45L320.31 151.71L317.89 160.69L317.21 160.52Z" fill="#1a2a30"/><path d="M320.21 151.69L321.25 151.99L318.51 160.87L317.83 160.68Z" fill="#6a6828"/><path d="M321.15 151.95L322.19 152.29L319.11 161.07L318.44 160.85Z" fill="#d0c42c"/><path d="M322.09 152.26L323.11 152.63L319.71 161.29L319.05 161.05Z" fill="#a9b043"/><path d="M323.01 152.60L324.02 153.01L320.30 161.54L319.65 161.27Z" fill="#9a9430"/><path d="M323.92 152.97L324.91 153.42L320.89 161.80L320.24 161.51Z" fill="#2189c0"/><path d="M324.81 153.37L325.79 153.86L321.46 162.09L320.82 161.77Z" fill="#1d3d52"/><path d="M325.69 153.81L326.65 154.34L322.02 162.40L321.40 162.06Z" fill="#3f7a80"/><path d="M326.56 154.28L327.49 154.84L322.57 162.73L321.96 162.36Z" fill="#1d3d52"/><path d="M327.40 154.78L328.32 155.38L323.10 163.08L322.51 162.69Z" fill="#3f7a80"/><path d="M328.23 155.32L329.12 155.94L323.62 163.44L323.04 163.04Z" fill="#2189c0"/><path d="M329.04 155.88L329.90 156.54L324.13 163.83L323.57 163.40Z" fill="#3f7a80"/><path d="M329.82 156.47L330.66 157.16L324.63 164.24L324.08 163.79Z" fill="#1a2a30"/><path d="M330.58 157.09L331.40 157.81L325.11 164.66L324.57 164.19Z" fill="#d0c42c"/><path d="M331.32 157.74L332.11 158.49L325.57 165.10L325.05 164.62Z" fill="#d0c42c"/><path d="M332.03 158.42L332.80 159.20L326.01 165.56L325.52 165.05Z" fill="#1d3d52"/><path d="M332.72 159.12L333.46 159.93L326.44 166.04L325.97 165.51Z" fill="#2189c0"/><path d="M333.39 159.85L334.09 160.68L326.85 166.53L326.40 165.98Z" fill="#1a2a30"/><path d="M334.02 160.60L334.69 161.45L327.25 167.03L326.81 166.47Z" fill="#1d3d52"/><path d="M334.63 161.37L335.27 162.25L327.62 167.55L327.21 166.97Z" fill="#2189c0"/><path d="M335.21 162.17L335.81 163.07L327.98 168.08L327.58 167.49Z" fill="#3f7a80"/><path d="M335.75 162.98L336.32 163.91L328.31 168.63L327.94 168.02Z" fill="#9a9430"/><path d="M336.27 163.82L336.81 164.77L328.62 169.18L328.27 168.57Z" fill="#3f7a80"/><path d="M336.76 164.67L337.26 165.64L328.92 169.75L328.59 169.12Z" fill="#9a9430"/><path d="M337.21 165.54L337.68 166.53L329.19 170.33L328.89 169.69Z" fill="#6a6828"/><path d="M337.63 166.43L338.06 167.43L329.44 170.92L329.16 170.27Z" fill="#6a6828"/><path d="M338.02 167.33L338.41 168.35L329.67 171.51L329.41 170.85Z" fill="#d0c42c"/><path d="M338.38 168.25L338.73 169.28L329.87 172.12L329.64 171.45Z" fill="#9a9430"/><path d="M338.70 169.18L339.01 170.22L330.06 172.73L329.85 172.05Z" fill="#1a2a30"/><path d="M338.98 170.12L339.26 171.17L330.22 173.35L330.04 172.67Z" fill="#9a9430"/><path d="M339.24 171.07L339.47 172.13L330.36 173.98L330.20 173.28Z" fill="#9a9430"/><path d="M339.45 172.03L339.65 173.10L330.47 174.60L330.34 173.91Z" fill="#3f7a80"/><path d="M339.63 173.00L339.79 174.07L330.56 175.24L330.46 174.54Z" fill="#3f7a80"/><path d="M339.78 173.97L339.90 175.05L330.63 175.87L330.56 175.17Z" fill="#1d3d52"/><path d="M339.89 174.95L339.96 176.03L330.68 176.51L330.63 175.80Z" fill="#3f7a80"/><path d="M339.96 175.93L340.00 177.01L330.70 177.15L330.67 176.44Z" fill="#3f7a80"/><path d="M340.00 176.91L339.99 178.00L330.70 177.79L330.70 177.08Z" fill="#9a9430"/><path d="M340.00 177.89L339.95 178.98L330.67 178.43L330.70 177.72Z" fill="#2189c0"/><path d="M339.96 178.87L339.88 179.96L330.62 179.07L330.67 178.36Z" fill="#2189c0"/><path d="M339.89 179.85L339.76 180.94L330.55 179.70L330.63 179.00Z" fill="#3f7a80"/><path d="M339.78 180.83L339.62 181.91L330.45 180.33L330.56 179.63Z" fill="#1d3d52"/><path d="M339.63 181.80L339.43 182.87L330.33 180.96L330.46 180.26Z" fill="#a9b043"/><path d="M339.45 182.77L339.21 183.83L330.19 181.58L330.34 180.89Z" fill="#1d3d52"/><path d="M339.24 183.73L338.96 184.78L330.02 182.20L330.20 181.52Z" fill="#1d3d52"/><path d="M338.98 184.68L338.67 185.72L329.83 182.81L330.04 182.13Z" fill="#2189c0"/><path d="M338.70 185.62L338.34 186.65L329.62 183.42L329.85 182.75Z" fill="#9a9430"/><path d="M338.38 186.55L337.98 187.56L329.39 184.01L329.64 183.35Z" fill="#1d3d52"/><path d="M338.02 187.47L337.59 188.47L329.13 184.60L329.41 183.95Z" fill="#2189c0"/><path d="M337.63 188.37L337.16 189.35L328.86 185.17L329.16 184.53Z" fill="#3f7a80"/><path d="M337.21 189.26L336.71 190.22L328.56 185.74L328.89 185.11Z" fill="#6a6828"/><path d="M336.76 190.13L336.22 191.07L328.24 186.29L328.59 185.68Z" fill="#2189c0"/><path d="M336.27 190.98L335.70 191.91L327.90 186.84L328.27 186.23Z" fill="#1a2a30"/><path d="M335.75 191.82L335.14 192.72L327.54 187.36L327.94 186.78Z" fill="#2189c0"/><path d="M335.21 192.63L334.56 193.51L327.16 187.88L327.58 187.31Z" fill="#3f7a80"/><path d="M334.63 193.43L333.95 194.29L326.77 188.38L327.21 187.83Z" fill="#3f7a80"/><path d="M334.02 194.20L333.32 195.03L326.35 188.87L326.81 188.33Z" fill="#1d3d52"/><path d="M333.39 194.95L332.65 195.76L325.92 189.34L326.40 188.82Z" fill="#2189c0"/><path d="M332.72 195.68L331.96 196.46L325.47 189.79L325.97 189.29Z" fill="#2189c0"/><path d="M332.03 196.38L331.24 197.13L325.00 190.23L325.52 189.75Z" fill="#1d3d52"/><path d="M331.32 197.06L330.50 197.77L324.52 190.65L325.05 190.18Z" fill="#a9b043"/><path d="M330.58 197.71L329.74 198.39L324.02 191.05L324.57 190.61Z" fill="#3f7a80"/><path d="M329.82 198.33L328.95 198.98L323.51 191.44L324.08 191.01Z" fill="#2189c0"/><path d="M329.04 198.92L328.14 199.54L322.99 191.80L323.57 191.40Z" fill="#2189c0"/><path d="M328.23 199.48L327.31 200.07L322.45 192.15L323.04 191.76Z" fill="#6a6828"/><path d="M327.40 200.02L326.47 200.57L321.90 192.47L322.51 192.11Z" fill="#1a2a30"/><path d="M326.56 200.52L325.60 201.04L321.33 192.77L321.96 192.44Z" fill="#9a9430"/><path d="M325.69 200.99L324.72 201.47L320.76 193.06L321.40 192.74Z" fill="#1a2a30"/><path d="M324.81 201.43L323.82 201.87L320.18 193.32L320.82 193.03Z" fill="#2189c0"/><path d="M323.92 201.83L322.91 202.24L319.58 193.56L320.24 193.29Z" fill="#1a2a30"/><path d="M323.01 202.20L321.99 202.58L318.98 193.77L319.65 193.53Z" fill="#1a2a30"/><path d="M322.09 202.54L321.05 202.88L318.37 193.97L319.05 193.75Z" fill="#3f7a80"/><path d="M321.15 202.85L320.10 203.14L317.76 194.14L318.44 193.95Z" fill="#3f7a80"/><path d="M320.21 203.11L319.15 203.37L317.14 194.29L317.83 194.12Z" fill="#3f7a80"/><path d="M319.25 203.35L318.18 203.57L316.51 194.42L317.21 194.28Z" fill="#3f7a80"/><path d="M318.29 203.55L317.21 203.73L315.88 194.52L316.58 194.41Z" fill="#a9b043"/><path d="M317.32 203.71L316.24 203.85L315.25 194.60L315.95 194.51Z" fill="#2189c0"/><path d="M316.34 203.84L315.26 203.94L314.61 194.66L315.31 194.59Z" fill="#1a2a30"/><path d="M315.36 203.93L314.28 203.99L313.97 194.69L314.68 194.65Z" fill="#6a6828"/><path d="M314.38 203.98L313.29 204.00L313.33 194.70L314.04 194.69Z" fill="#2189c0"/><path d="M313.40 204.00L312.31 203.98L312.69 194.69L313.40 194.70Z" fill="#3f7a80"/><path d="M312.42 203.98L311.33 203.92L312.05 194.65L312.76 194.69Z" fill="#1d3d52"/><path d="M311.44 203.93L310.35 203.82L311.42 194.59L312.12 194.65Z" fill="#d0c42c"/><path d="M310.46 203.84L309.38 203.69L310.78 194.50L311.49 194.59Z" fill="#1a2a30"/><path d="M309.48 203.71L308.41 203.53L310.15 194.39L310.85 194.51Z" fill="#d0c42c"/><path d="M308.51 203.55L307.45 203.33L309.53 194.26L310.22 194.41Z" fill="#6a6828"/><path d="M307.55 203.35L306.49 203.09L308.91 194.11L309.59 194.28Z" fill="#9a9430"/><path d="M306.59 203.11L305.55 202.81L308.29 193.93L308.97 194.12Z" fill="#d0c42c"/><path d="M305.65 202.85L304.61 202.51L307.69 193.73L308.36 193.95Z" fill="#a9b043"/><path d="M304.71 202.54L303.69 202.17L307.09 193.51L307.75 193.75Z" fill="#d0c42c"/><path d="M303.79 202.20L302.78 201.79L306.50 193.26L307.15 193.53Z" fill="#1a2a30"/><path d="M302.88 201.83L301.89 201.38L305.91 193.00L306.56 193.29Z" fill="#a9b043"/><path d="M301.99 201.43L301.01 200.94L305.34 192.71L305.98 193.03Z" fill="#6a6828"/><path d="M301.11 200.99L300.15 200.46L304.78 192.40L305.40 192.74Z" fill="#9a9430"/><path d="M300.24 200.52L299.31 199.96L304.23 192.07L304.84 192.44Z" fill="#3f7a80"/><path d="M299.40 200.02L298.48 199.42L303.70 191.72L304.29 192.11Z" fill="#9a9430"/><path d="M298.57 199.48L297.68 198.86L303.18 191.36L303.76 191.76Z" fill="#1a2a30"/><path d="M297.76 198.92L296.90 198.26L302.67 190.97L303.23 191.40Z" fill="#6a6828"/><path d="M296.98 198.33L296.14 197.64L302.17 190.56L302.72 191.01Z" fill="#6a6828"/><path d="M296.22 197.71L295.40 196.99L301.69 190.14L302.23 190.61Z" fill="#d0c42c"/><path d="M295.48 197.06L294.69 196.31L301.23 189.70L301.75 190.18Z" fill="#2189c0"/><path d="M294.77 196.38L294.00 195.60L300.79 189.24L301.28 189.75Z" fill="#d0c42c"/><path d="M294.08 195.68L293.34 194.87L300.36 188.76L300.83 189.29Z" fill="#d0c42c"/><path d="M293.41 194.95L292.71 194.12L299.95 188.27L300.40 188.82Z" fill="#1d3d52"/><path d="M292.78 194.20L292.11 193.35L299.55 187.77L299.99 188.33Z" fill="#1d3d52"/><path d="M292.17 193.43L291.53 192.55L299.18 187.25L299.59 187.83Z" fill="#9a9430"/><path d="M291.59 192.63L290.99 191.73L298.82 186.72L299.22 187.31Z" fill="#6a6828"/><path d="M291.05 191.82L290.48 190.89L298.49 186.17L298.86 186.78Z" fill="#d0c42c"/><path d="M290.53 190.98L289.99 190.03L298.18 185.62L298.53 186.23Z" fill="#d0c42c"/><path d="M290.04 190.13L289.54 189.16L297.88 185.05L298.21 185.68Z" fill="#9a9430"/><path d="M289.59 189.26L289.12 188.27L297.61 184.47L297.91 185.11Z" fill="#d0c42c"/><path d="M289.17 188.37L288.74 187.37L297.36 183.88L297.64 184.53Z" fill="#d0c42c"/><path d="M288.78 187.47L288.39 186.45L297.13 183.29L297.39 183.95Z" fill="#d0c42c"/><path d="M288.42 186.55L288.07 185.52L296.93 182.68L297.16 183.35Z" fill="#d0c42c"/><path d="M288.10 185.62L287.79 184.58L296.74 182.07L296.95 182.75Z" fill="#1d3d52"/><path d="M287.82 184.68L287.54 183.63L296.58 181.45L296.76 182.13Z" fill="#1a2a30"/><path d="M287.56 183.73L287.33 182.67L296.44 180.82L296.60 181.52Z" fill="#9a9430"/><path d="M287.35 182.77L287.15 181.70L296.33 180.20L296.46 180.89Z" fill="#9a9430"/><path d="M287.17 181.80L287.01 180.73L296.24 179.56L296.34 180.26Z" fill="#9a9430"/><path d="M287.02 180.83L286.90 179.75L296.17 178.93L296.24 179.63Z" fill="#3f7a80"/><path d="M286.91 179.85L286.84 178.77L296.12 178.29L296.17 179.00Z" fill="#d0c42c"/><path d="M286.84 178.87L286.80 177.79L296.10 177.65L296.13 178.36Z" fill="#1d3d52"/><path d="M286.80 177.89L286.81 176.80L296.10 177.01L296.10 177.72Z" fill="#a9b043"/><path d="M286.80 176.91L286.85 175.82L296.13 176.37L296.10 177.08Z" fill="#d0c42c"/><path d="M286.84 175.93L286.92 174.84L296.18 175.73L296.13 176.44Z" fill="#6a6828"/><path d="M286.91 174.95L287.04 173.86L296.25 175.10L296.17 175.80Z" fill="#9a9430"/><path d="M287.02 173.97L287.18 172.89L296.35 174.47L296.24 175.17Z" fill="#d0c42c"/><path d="M287.17 173.00L287.37 171.93L296.47 173.84L296.34 174.54Z" fill="#d0c42c"/><path d="M287.35 172.03L287.59 170.97L296.61 173.22L296.46 173.91Z" fill="#1d3d52"/><path d="M287.56 171.07L287.84 170.02L296.78 172.60L296.60 173.28Z" fill="#9a9430"/><path d="M287.82 170.12L288.13 169.08L296.97 171.99L296.76 172.67Z" fill="#1a2a30"/><path d="M288.10 169.18L288.46 168.15L297.18 171.38L296.95 172.05Z" fill="#1a2a30"/><path d="M288.42 168.25L288.82 167.24L297.41 170.79L297.16 171.45Z" fill="#2189c0"/><path d="M288.78 167.33L289.21 166.33L297.67 170.20L297.39 170.85Z" fill="#d0c42c"/><path d="M289.17 166.43L289.64 165.45L297.94 169.63L297.64 170.27Z" fill="#1a2a30"/><path d="M289.59 165.54L290.09 164.58L298.24 169.06L297.91 169.69Z" fill="#2189c0"/><path d="M290.04 164.67L290.58 163.73L298.56 168.51L298.21 169.12Z" fill="#3f7a80"/><path d="M290.53 163.82L291.10 162.89L298.90 167.96L298.53 168.57Z" fill="#d0c42c"/><path d="M291.05 162.98L291.66 162.08L299.26 167.44L298.86 168.02Z" fill="#1a2a30"/><path d="M291.59 162.17L292.24 161.29L299.64 166.92L299.22 167.49Z" fill="#1d3d52"/><path d="M292.17 161.37L292.85 160.51L300.03 166.42L299.59 166.97Z" fill="#9a9430"/><path d="M292.78 160.60L293.48 159.77L300.45 165.93L299.99 166.47Z" fill="#2189c0"/><path d="M293.41 159.85L294.15 159.04L300.88 165.46L300.40 165.98Z" fill="#6a6828"/><path d="M294.08 159.12L294.84 158.34L301.33 165.01L300.83 165.51Z" fill="#d0c42c"/><path d="M294.77 158.42L295.56 157.67L301.80 164.57L301.28 165.05Z" fill="#1a2a30"/><path d="M295.48 157.74L296.30 157.03L302.28 164.15L301.75 164.62Z" fill="#9a9430"/><path d="M296.22 157.09L297.06 156.41L302.78 163.75L302.23 164.19Z" fill="#d0c42c"/><path d="M296.98 156.47L297.85 155.82L303.29 163.36L302.72 163.79Z" fill="#2189c0"/><path d="M297.76 155.88L298.66 155.26L303.81 163.00L303.23 163.40Z" fill="#9a9430"/><path d="M298.57 155.32L299.49 154.73L304.35 162.65L303.76 163.04Z" fill="#3f7a80"/><path d="M299.40 154.78L300.33 154.23L304.90 162.33L304.29 162.69Z" fill="#a9b043"/><path d="M300.24 154.28L301.20 153.76L305.47 162.03L304.84 162.36Z" fill="#1d3d52"/><path d="M301.11 153.81L302.08 153.33L306.04 161.74L305.40 162.06Z" fill="#2189c0"/><path d="M301.99 153.37L302.98 152.93L306.62 161.48L305.98 161.77Z" fill="#3f7a80"/><path d="M302.88 152.97L303.89 152.56L307.22 161.24L306.56 161.51Z" fill="#1a2a30"/><path d="M303.79 152.60L304.81 152.22L307.82 161.03L307.15 161.27Z" fill="#9a9430"/><path d="M304.71 152.26L305.75 151.92L308.43 160.83L307.75 161.05Z" fill="#1a2a30"/><path d="M305.65 151.95L306.70 151.66L309.04 160.66L308.36 160.85Z" fill="#1a2a30"/><path d="M306.59 151.69L307.65 151.43L309.66 160.51L308.97 160.68Z" fill="#1a2a30"/><path d="M307.55 151.45L308.62 151.23L310.29 160.38L309.59 160.52Z" fill="#2189c0"/><path d="M308.51 151.25L309.59 151.07L310.92 160.28L310.22 160.39Z" fill="#d0c42c"/><path d="M309.48 151.09L310.56 150.95L311.55 160.20L310.85 160.29Z" fill="#3f7a80"/><path d="M310.46 150.96L311.54 150.86L312.19 160.14L311.49 160.21Z" fill="#9a9430"/><path d="M311.44 150.87L312.52 150.81L312.83 160.11L312.12 160.15Z" fill="#d0c42c"/><path d="M312.42 150.82L313.51 150.80L313.47 160.10L312.76 160.11Z" fill="#1a2a30"/>
<circle cx="313.4" cy="177.4" r="17.9" fill="#5dbd47"/>
<path d="M313.40 177.40L296.80 184.11A17.9 17.9 0 0 1 313.40 159.50Z" fill="#ea2127"/>
<circle cx="313.4" cy="177.4" r="8.9" fill="#3b4fa6"/>
<rect x="78.20" y="177.4" width="2.2" height="66" fill="#000"/>
<rect x="250.20" y="177.4" width="2.2" height="66" fill="#000"/>
<rect x="312.20" y="177.4" width="2.2" height="66" fill="#000"/>
<text transform="translate(78.2,145.5) rotate(-45) scale(1,1.04)" font-size="15.1">cg01305539</text>
<text transform="translate(251.5,145.5) rotate(-45) scale(1,1.04)" font-size="15.1">cg14122599</text>
<text transform="translate(317.1,145.5) rotate(-45) scale(1,1.04)" font-size="15.1">cg14383549</text>
<rect x="537.9" y="211" width="93.6" height="33.6" fill="#050505"/>
<rect x="537.9" y="153.1" width="2.4" height="58" fill="#000"/>
<rect x="537.9" y="153.1" width="99" height="2.2" fill="#000"/>
<polygon points="635.8,150.3 649.4,154.2 635.8,158" fill="#000"/>
<text transform="translate(492.2,145) scale(1,1.03)" font-size="15">DAB2IP TSS</text>
<text transform="translate(0,273.8)" font-size="22.5">B.</text>
<text transform="translate(14,319.9) scale(1,1.04)" font-size="20.1" font-weight="bold">CpGs</text>
<text transform="translate(128.5,319.9) scale(1,1.04)" font-size="20.1" font-weight="bold">Univariate p value</text>
<text transform="translate(329,319.9) scale(1,1.04)" font-size="20.1" font-weight="bold">HR (95% CI)</text>
<text transform="translate(526.3,319.9) scale(1,1.04)" font-size="20.1" font-weight="bold">End-point</text>
<text transform="translate(128.5,425.2) scale(1,1.04)" font-size="20.1" font-weight="bold">Adjusted p value</text>
<text transform="translate(14.4,351.6) scale(1,1.05)" font-size="20.2">cg01305539</text>
<text transform="translate(261,351.6) scale(1,1.05)" font-size="20.2" text-anchor="end">0.136</text>
<text transform="translate(500.8,351.6) scale(1,1.05)" font-size="20.2">0.98 (0.97−1.00)</text>
<text transform="translate(14.4,375.8) scale(1,1.05)" font-size="20.2">cg14122599</text>
<text transform="translate(261,375.8) scale(1,1.05)" font-size="20.2" text-anchor="end">&lt;0.0001</text>
<text transform="translate(500.8,375.8) scale(1,1.05)" font-size="20.2">1.04 (1.02−1.06)</text>
<text transform="translate(14.4,400.0) scale(1,1.05)" font-size="20.2">cg14383549</text>
<text transform="translate(261,400.0) scale(1,1.05)" font-size="20.2" text-anchor="end">&lt;0.0001</text>
<text transform="translate(500.8,400.0) scale(1,1.05)" font-size="20.2">1.03 (1.02−1.05)</text>
<text transform="translate(14.4,448.7) scale(1,1.05)" font-size="20.2">cg01305539</text>
<text transform="translate(261,448.7) scale(1,1.05)" font-size="20.2" text-anchor="end">0.282</text>
<text transform="translate(500.8,448.7) scale(1,1.05)" font-size="20.2">0.99 (0.97−1.01)</text>
<text transform="translate(14.4,472.9) scale(1,1.05)" font-size="20.2">cg14122599</text>
<text transform="translate(261,472.9) scale(1,1.05)" font-size="20.2" text-anchor="end">0.044</text>
<text transform="translate(500.8,472.9) scale(1,1.05)" font-size="20.2">1.02 (1.00−1.04)</text>
<text transform="translate(14.4,497.1) scale(1,1.05)" font-size="20.2">cg14383549</text>
<text transform="translate(261,497.1) scale(1,1.05)" font-size="20.2" text-anchor="end">0.240</text>
<text transform="translate(500.8,497.1) scale(1,1.05)" font-size="20.2">1.01 (0.99−1.03)</text>
<line x1="367.9" y1="332" x2="367.9" y2="512.7" stroke="#444" stroke-width="1.4"/>
<line x1="307.6" y1="343.5" x2="367.9" y2="343.5" stroke="#4245a0" stroke-width="1.3"/>
<rect x="320.6" y="336.3" width="14.2" height="14.4" fill="#4d67b6"/>
<line x1="408.1" y1="367.7" x2="488.5" y2="367.7" stroke="#4245a0" stroke-width="1.3"/>
<rect x="441.2" y="360.5" width="14.2" height="14.4" fill="#4d67b6"/>
<line x1="408.1" y1="391.9" x2="468.4" y2="391.9" stroke="#4245a0" stroke-width="1.3"/>
<rect x="421.1" y="384.7" width="14.2" height="14.4" fill="#4d67b6"/>
<line x1="307.6" y1="440.3" x2="388.0" y2="440.3" stroke="#4245a0" stroke-width="1.3"/>
<rect x="340.7" y="433.1" width="14.2" height="14.4" fill="#4d67b6"/>
<line x1="367.9" y1="464.5" x2="448.3" y2="464.5" stroke="#4245a0" stroke-width="1.3"/>
<rect x="401.0" y="457.3" width="14.2" height="14.4" fill="#4d67b6"/>
<line x1="347.8" y1="488.7" x2="428.2" y2="488.7" stroke="#4245a0" stroke-width="1.3"/>
<rect x="380.9" y="481.5" width="14.2" height="14.4" fill="#4d67b6"/>
<path d="M287.5 520.4V512.7H488.6V520.4" fill="none" stroke="#222" stroke-width="1.3"/>
<text x="287.5" y="539.4" font-size="13" text-anchor="middle">0.96</text>
<line x1="327.7" y1="512.7" x2="327.7" y2="520.4" stroke="#222" stroke-width="1.3"/>
<text x="327.7" y="539.4" font-size="13" text-anchor="middle">0.98</text>
<line x1="367.9" y1="512.7" x2="367.9" y2="520.4" stroke="#222" stroke-width="1.3"/>
<text x="367.9" y="539.4" font-size="13" text-anchor="middle">1</text>
<line x1="408.1" y1="512.7" x2="408.1" y2="520.4" stroke="#222" stroke-width="1.3"/>
<text x="408.1" y="539.4" font-size="13" text-anchor="middle">1.02</text>
<line x1="448.3" y1="512.7" x2="448.3" y2="520.4" stroke="#222" stroke-width="1.3"/>
<text x="448.3" y="539.4" font-size="13" text-anchor="middle">1.04</text>
<text x="488.5" y="539.4" font-size="13" text-anchor="middle">1.06</text>
</svg></body></html>
